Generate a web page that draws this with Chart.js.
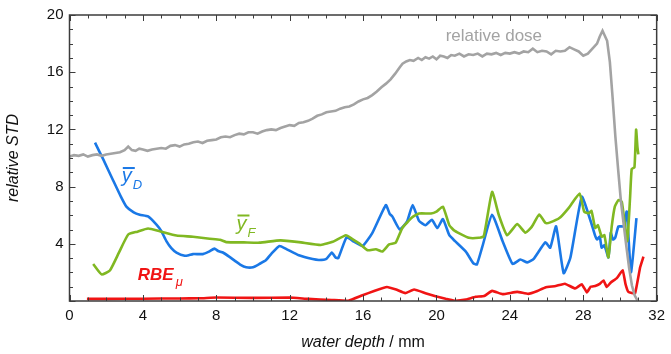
<!DOCTYPE html>
<html>
<head>
<meta charset="utf-8">
<script src="https://cdn.jsdelivr.net/npm/chart.js@4.4.0/dist/chart.umd.min.js"></script>
<style>
	html, body { margin: 0; padding: 0; background: #fff; }
	#wrap { width: 671px; height: 354px; }
</style>
</head>
<body>
<div id="wrap"><canvas id="std"></canvas></div>
<script>
// water depth (mm) and values
const doseX = [0, 0.25, 0.5, 0.75, 1.0, 1.25, 1.5, 1.75, 2.0, 2.25, 2.5, 2.75, 3.0, 3.2, 3.4, 3.6, 3.8, 4.0, 4.25, 4.5, 4.75, 5.0, 5.25, 5.5, 5.75, 6.0, 6.25, 6.5, 6.75, 7.0, 7.25, 7.5, 7.75, 8.0, 8.25, 8.5, 8.75, 9.0, 9.25, 9.5, 9.75, 10.0, 10.25, 10.5, 10.75, 11.0, 11.25, 11.5, 11.75, 12.0, 12.25, 12.5, 12.75, 13.0, 13.25, 13.5, 13.75, 14.0, 14.25, 14.5, 14.75, 15.0, 15.25, 15.5, 15.75, 16.0, 16.25, 16.5, 16.75, 17.0, 17.25, 17.5, 17.75, 18.0, 18.15, 18.35, 18.55, 18.75, 19.0, 19.2, 19.4, 19.6, 19.8, 20.0, 20.2, 20.4, 20.6, 20.8, 21.0, 21.25, 21.5, 21.75, 22.0, 22.25, 22.5, 22.75, 23.0, 23.25, 23.5, 23.75, 24.0, 24.25, 24.5, 24.75, 25.0, 25.25, 25.5, 25.75, 26.0, 26.25, 26.5, 26.75, 27.0, 27.25, 27.5, 27.75, 28.0, 28.25, 28.5, 28.75, 28.9, 29.05, 29.3, 29.45, 29.6, 29.75, 29.9, 30.05, 30.2, 30.35, 30.5, 30.65, 30.8, 30.95];
const doseY = [10.1, 10.2, 10.15, 10.25, 10.1, 10.2, 10.25, 10.15, 10.25, 10.3, 10.35, 10.4, 10.55, 10.8, 10.55, 10.5, 10.65, 10.6, 10.5, 10.6, 10.65, 10.7, 10.65, 10.85, 10.9, 10.8, 10.95, 11.0, 11.1, 11.15, 11.05, 11.2, 11.25, 11.3, 11.45, 11.5, 11.45, 11.6, 11.7, 11.65, 11.8, 11.8, 11.7, 11.85, 11.95, 12.0, 11.95, 12.1, 12.2, 12.3, 12.25, 12.45, 12.5, 12.6, 12.75, 12.95, 13.05, 13.2, 13.25, 13.3, 13.45, 13.55, 13.6, 13.75, 13.95, 14.1, 14.2, 14.4, 14.65, 14.95, 15.2, 15.5, 15.9, 16.35, 16.6, 16.75, 16.85, 16.8, 17.0, 16.85, 17.05, 16.95, 17.1, 16.9, 17.15, 17.1, 17.0, 17.2, 17.15, 17.3, 17.1, 17.25, 17.2, 17.3, 17.1, 17.3, 17.25, 17.35, 17.2, 17.35, 17.3, 17.4, 17.3, 17.45, 17.4, 17.65, 17.4, 17.5, 17.45, 17.25, 17.5, 17.45, 17.5, 17.75, 17.6, 17.45, 17.15, 17.3, 17.65, 18.0, 18.5, 18.9, 18.2, 16.7, 14.2, 11.5, 9.2, 7.0, 5.4, 3.8, 2.3, 1.1, 0.4, 0.05];

const yDX = [1.39, 1.84, 2.38, 2.8, 3.1, 3.5, 3.83, 4.28, 4.74, 5.0, 5.28, 5.55, 5.83, 6.28, 6.5, 6.73, 7.27, 7.6, 7.9, 8.1, 8.36, 8.7, 9.0, 9.3, 9.63, 10.0, 10.35, 10.7, 11.0, 11.44, 11.8, 12.5, 13.25, 13.6, 14.0, 14.3, 14.5, 14.65, 15.1, 15.5, 15.97, 16.5, 17.24, 17.45, 17.6, 18.0, 18.4, 18.7, 19.05, 19.4, 19.75, 20.05, 20.35, 20.7, 21.0, 21.6, 22.0, 22.2, 22.5, 23.03, 23.6, 24.15, 24.57, 24.95, 25.3, 25.93, 26.2, 26.52, 26.93, 27.3, 27.92, 28.38, 28.65, 28.75, 28.9, 29.0, 29.15, 29.37, 29.5, 29.62, 29.74, 29.92, 30.2, 30.37, 30.6, 30.9];
const yDY = [11.07, 9.9, 8.43, 7.3, 6.6, 6.2, 6.03, 5.91, 5.34, 4.9, 4.19, 3.7, 3.39, 3.16, 3.2, 3.28, 3.28, 3.45, 3.66, 3.5, 3.39, 3.1, 2.82, 2.55, 2.36, 2.36, 2.59, 2.85, 3.3, 3.85, 3.65, 3.2, 2.93, 2.87, 2.95, 3.39, 3.04, 3.0, 4.45, 4.15, 3.85, 4.75, 6.71, 6.1, 5.9, 5.0, 5.57, 6.71, 5.6, 5.3, 5.68, 5.1, 5.73, 4.6, 4.2, 3.45, 2.65, 2.55, 3.8, 6.03, 4.2, 2.59, 2.9, 2.7, 2.95, 4.1, 3.73, 5.22, 1.95, 3.04, 7.29, 5.68, 4.55, 4.3, 4.5, 3.73, 3.9, 3.05, 4.76, 4.3, 4.42, 5.22, 5.22, 6.25, 2.01, 5.8];

const yFX = [1.29, 1.75, 2.2, 2.7, 3.2, 3.7, 4.28, 4.92, 5.83, 6.73, 7.64, 8.2, 8.54, 9.5, 10.35, 11.5, 12.5, 13.7, 14.34, 15.07, 15.4, 15.79, 16.24, 16.7, 17.05, 17.42, 17.78, 18.14, 18.68, 19.05, 19.7, 20.0, 20.35, 20.7, 21.0, 21.77, 22.3, 22.58, 23.03, 23.4, 23.85, 24.4, 24.85, 25.2, 25.6, 25.95, 26.2, 26.7, 27.2, 27.8, 28.05, 28.3, 28.45, 28.65, 28.8, 29.0, 29.15, 29.37, 29.55, 29.72, 29.92, 30.1, 30.25, 30.4, 30.55, 30.64, 30.79, 30.88, 30.95, 31.0];
const yFY = [2.59, 1.86, 2.13, 3.4, 4.65, 4.85, 5.07, 4.88, 4.58, 4.49, 4.35, 4.28, 4.12, 4.1, 4.08, 4.24, 4.12, 3.92, 4.14, 4.6, 4.35, 4.03, 3.55, 3.62, 3.46, 3.96, 4.08, 5.11, 5.85, 6.12, 6.12, 6.25, 6.6, 5.3, 4.9, 4.42, 4.42, 4.54, 7.63, 6.0, 4.6, 5.38, 4.78, 5.2, 6.05, 5.45, 5.5, 5.8, 6.5, 7.51, 6.25, 6.14, 6.3, 5.11, 5.3, 4.5, 4.6, 3.04, 5.2, 6.6, 7.06, 6.94, 5.5, 4.19, 7.2, 9.23, 9.35, 11.98, 10.8, 10.26];

const rbeX = [0.95, 2, 4, 6, 7.1, 8.0, 10, 12.0, 13, 14.3, 15.2, 15.97, 16.6, 17.3, 17.8, 18.3, 18.78, 19.4, 19.95, 20.5, 21.0, 21.6, 22.13, 22.6, 23.03, 23.6, 24.4, 25.0, 25.5, 25.93, 26.5, 27.0, 27.56, 27.92, 28.2, 28.4, 28.65, 28.9, 29.1, 29.28, 29.5, 29.83, 30.15, 30.3, 30.46, 30.82, 31.1, 31.28];
const rbeY = [0.15, 0.15, 0.16, 0.18, 0.19, 0.24, 0.22, 0.24, 0.15, 0.07, 0.02, 0.4, 0.7, 0.98, 0.8, 0.55, 0.8, 0.55, 0.34, 0.15, 0.02, 0.1, 0.3, 0.35, 0.71, 0.48, 0.64, 0.5, 0.7, 0.95, 1.05, 1.21, 0.87, 1.17, 0.6, 1.0, 1.05, 1.2, 1.44, 0.98, 1.3, 1.6, 2.15, 1.2, 0.64, 0.53, 2.36, 3.1];

const xTicks = [0, 4, 8, 12, 16, 20, 24, 28, 32];
const yTicks = [4, 8, 12, 16, 20];

const GRAY = '#a3a3a3';
const BLUE = '#1a78e6';
const GREEN = '#80b822';
const RED = '#f01414';

const pts = (xs, ys) => xs.map((x, i) => ({ x: x, y: ys[i] }));

const line = (label, xs, ys, color, tension) => ({
	label: label,
	data: pts(xs, ys),
	borderColor: color,
	backgroundColor: color,
	borderWidth: 2.6,
	pointRadius: 0,
	tension: tension,
	fill: false,
});

// inward ticks on all four sides, plus the closed frame
const frame = {
	id: 'frame',
	afterDraw(chart) {
		const { ctx, chartArea: a, scales } = chart;
		ctx.save();
		ctx.strokeStyle = '#3c3c3c';
		ctx.lineWidth = 1.5;
		ctx.strokeRect(a.left, a.top, a.right - a.left, a.bottom - a.top);
		ctx.lineWidth = 1;
		ctx.beginPath();
		for (let v = 0; v <= 32; v++) {
			const px = Math.round(scales.x.getPixelForValue(v)) + 0.5;
			const len = v % 4 === 0 ? 6 : 3.5;
			ctx.moveTo(px, a.bottom); ctx.lineTo(px, a.bottom - len);
			ctx.moveTo(px, a.top); ctx.lineTo(px, a.top + len);
		}
		for (let v = 0; v <= 20; v++) {
			const py = Math.round(scales.y.getPixelForValue(v)) + 0.5;
			const len = v % 4 === 0 ? 6 : 3.5;
			ctx.moveTo(a.left, py); ctx.lineTo(a.left + len, py);
			ctx.moveTo(a.right, py); ctx.lineTo(a.right - len, py);
		}
		ctx.stroke();

		// x axis title: italic part + upright unit
		ctx.fillStyle = '#111';
		ctx.textBaseline = 'alphabetic';
		const it = 'italic 16px "Liberation Sans", Arial, sans-serif';
		const up = '16px "Liberation Sans", Arial, sans-serif';
		ctx.font = it;
		const w1 = ctx.measureText('water depth').width;
		ctx.font = up;
		const w2 = ctx.measureText(' / mm').width;
		const x0 = (a.left + a.right) / 2 - (w1 + w2) / 2;
		ctx.font = it;
		ctx.fillText('water depth', x0, 347);
		ctx.font = up;
		ctx.fillText(' / mm', x0 + w1, 347);
		ctx.restore();
	}
};

// curve labels placed in data coordinates
const labelsPlugin = {
	id: 'curveLabels',
	afterDatasetsDraw(chart) {
		const { ctx, scales } = chart;
		const X = v => scales.x.getPixelForValue(v);
		const Y = v => scales.y.getPixelForValue(v);
		ctx.save();
		ctx.textBaseline = 'alphabetic';
		ctx.textAlign = 'left';

		ctx.fillStyle = GRAY;
		ctx.font = '17px "Liberation Sans", Arial, sans-serif';
		ctx.fillText('relative dose', X(20.5), Y(18.15));

		const ybar = (x, y, sub, color) => {
			ctx.fillStyle = color;
			ctx.font = 'italic 20px "Liberation Sans", Arial, sans-serif';
			const px = X(x), py = Y(y);
			ctx.fillText('y', px, py);
			const w = ctx.measureText('y').width;
			ctx.fillRect(px + 1, py - 15, w + 2, 2);
			ctx.font = 'italic 13px "Liberation Sans", Arial, sans-serif';
			ctx.fillText(sub, px + w + 1, py + 7);
		};
		ybar(2.85, 8.32, 'D', BLUE);
		ybar(9.1, 5.0, 'F', GREEN);

		ctx.fillStyle = RED;
		ctx.font = 'italic bold 17px "Liberation Sans", Arial, sans-serif';
		ctx.fillText('RBE', X(3.72), Y(1.44));
		const wr = ctx.measureText('RBE').width;
		ctx.font = 'italic 13px "Liberation Sans", Arial, sans-serif';
		ctx.fillText('\u03bc', X(3.72) + wr + 2, Y(1.44) + 6);
		ctx.restore();
	}
};

const config_std = {
	type: 'line',
	data: {
		datasets: [
			line('relative dose', doseX, doseY, GRAY, 0),
			line('yF', yFX, yFY, GREEN, 0.15),
			line('yD', yDX, yDY, BLUE, 0.15),
			line('RBE', rbeX, rbeY, RED, 0.1),
		]
	},
	options: {
		responsive: true,
		maintainAspectRatio: false,
		animation: false,
		layout: { padding: { top: 10, right: 12, left: 0, bottom: 0 } },
		plugins: {
			legend: { display: false },
			tooltip: { enabled: false },
		},
		scales: {
			x: {
				type: 'linear',
				min: 0,
				max: 32,
				afterFit: s => { s.height = 53; },
				afterBuildTicks: s => { s.ticks = xTicks.map(v => ({ value: v })); },
				ticks: {
					padding: 6,
					maxRotation: 0,
					color: '#111',
					font: { size: 15, family: '"Liberation Sans", Arial, sans-serif' },
				},
				grid: { display: false, drawTicks: false },
				border: { display: false },
			},
			y: {
				min: 0,
				max: 20,
				afterFit: s => { s.width = 69.5; },
				afterBuildTicks: s => { s.ticks = yTicks.map(v => ({ value: v })); },
				ticks: {
					padding: 6,
					color: '#111',
					font: { size: 15, family: '"Liberation Sans", Arial, sans-serif' },
				},
				title: {
					display: true,
					text: 'relative STD',
					color: '#111',
					padding: { top: 4, bottom: 0 },
					font: { size: 16, style: 'italic', family: '"Liberation Sans", Arial, sans-serif' },
				},
				grid: { display: false, drawTicks: false },
				border: { display: false },
			}
		}
	},
	plugins: [frame, labelsPlugin],
};

const std = new Chart(document.getElementById('std'), config_std);
</script>
</body>
</html>
